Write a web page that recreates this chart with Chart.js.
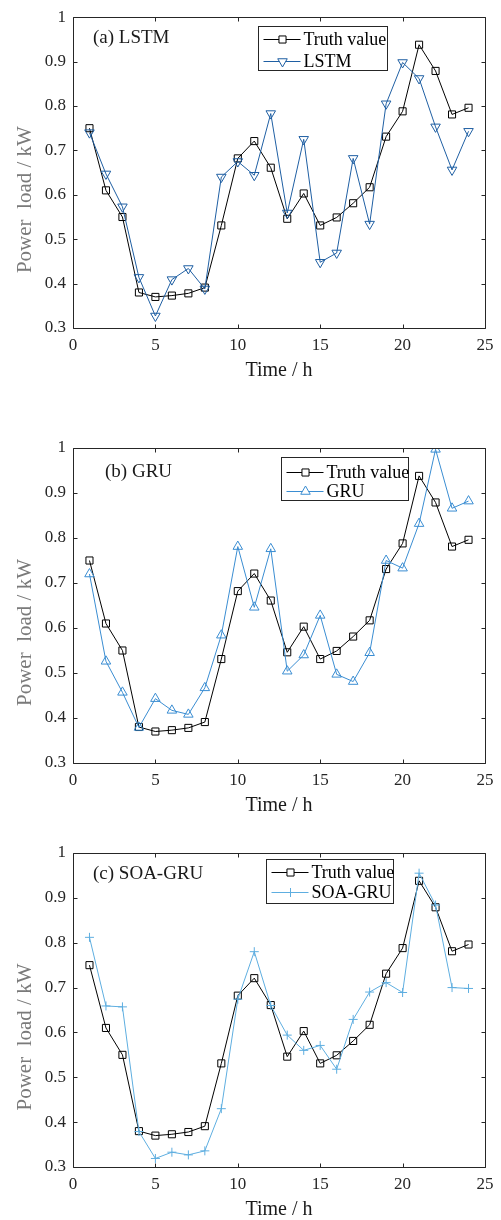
<!DOCTYPE html>
<html>
<head>
<meta charset="utf-8">
<script src="https://cdn.jsdelivr.net/npm/chart.js@4/dist/chart.umd.min.js"></script>
<style>
  html, body { margin: 0; padding: 0; background: #ffffff; }
  body { width: 501px; height: 1220px; position: relative; overflow: hidden; }
  canvas { position: absolute; left: 0; }
</style>
</head>
<body>
<canvas id="cA" width="501" height="400" style="top:0px"></canvas>
<canvas id="cB" width="501" height="420" style="top:400px"></canvas>
<canvas id="cC" width="501" height="400" style="top:820px"></canvas>
<script>
// ---------------- data ----------------
const hours = [1, 2, 3, 4, 5, 6, 7, 8, 9, 10, 11, 12, 13, 14, 15, 16, 17, 18, 19, 20, 21, 22, 23, 24];
const truthValue = [0.750, 0.610, 0.550, 0.380, 0.370, 0.373, 0.378, 0.391, 0.531, 0.682, 0.721, 0.661,
                    0.546, 0.603, 0.531, 0.549, 0.581, 0.617, 0.731, 0.788, 0.938, 0.879, 0.781, 0.796];
const lstmValue  = [0.740, 0.647, 0.573, 0.414, 0.327, 0.409, 0.434, 0.388, 0.640, 0.675, 0.644, 0.783,
                    0.559, 0.725, 0.448, 0.469, 0.682, 0.534, 0.805, 0.898, 0.862, 0.753, 0.656, 0.743];
const gruValue   = [0.720, 0.526, 0.457, 0.379, 0.443, 0.417, 0.408, 0.467, 0.584, 0.781, 0.646, 0.776,
                    0.504, 0.540, 0.628, 0.497, 0.481, 0.545, 0.750, 0.733, 0.832, 0.997, 0.866, 0.882];
const soaGruValue = [0.812, 0.659, 0.657, 0.379, 0.319, 0.333, 0.327, 0.336, 0.430, 0.674, 0.780, 0.660,
                     0.594, 0.560, 0.571, 0.518, 0.629, 0.690, 0.711, 0.689, 0.955, 0.884, 0.700, 0.698];
const xTickValues = [0, 5, 10, 15, 20, 25];
const yTickValues = [0.3, 0.4, 0.5, 0.6, 0.7, 0.8, 0.9, 1];
const panelTitles = ['(a) LSTM', '(b) GRU', '(c) SOA-GRU'];
const seriesNames = ['Truth value', 'LSTM', 'GRU', 'SOA-GRU'];
const xAxisTitle = 'Time / h';
const yAxisTitle = 'Power  load / kW';

// ---------------- layout / style ----------------
const FONT = '"Liberation Serif", "Times New Roman", serif';
const AXIS_COLOR = '#262626';

const panels = [
  { canvas: 'cA', h: 400, areaTop: 14, areaBottom: 328, title: panelTitles[0], titlePos: [20, 21],
    pred: lstmValue, predName: seriesNames[1], color: '#1f5fa3', style: 'triangle', rot: 180, radius: 5.5,
    legend: { x: 185, y: 9, w: 129, h: 44, r1: 12, r2: 34 } },
  { canvas: 'cB', h: 420, areaTop: 48, areaBottom: 363, title: panelTitles[1], titlePos: [32, 24],
    pred: gruValue, predName: seriesNames[2], color: '#3a8dd2', style: 'triangle', rot: 0, radius: 5.5,
    legend: { x: 208, y: 9, w: 127, h: 43, r1: 14, r2: 33 } },
  { canvas: 'cC', h: 400, areaTop: 33, areaBottom: 347, title: panelTitles[2], titlePos: [20, 21],
    pred: soaGruValue, predName: seriesNames[3], color: '#5eaee0', style: 'cross', rot: 0, radius: 4.5,
    legend: { x: 193, y: 6, w: 127, h: 44, r1: 12, r2: 32 } }
];

const frameTicks = {
  id: 'frameTicks',
  afterDraw(chart) {
    const ctx = chart.ctx;
    const a = chart.chartArea;
    const xs = chart.scales.x, ys = chart.scales.y;
    ctx.save();
    ctx.strokeStyle = AXIS_COLOR;
    ctx.lineWidth = 1;
    ctx.beginPath();
    const L = Math.round(a.left) + 0.5, R = Math.round(a.right) + 0.5;
    const T = Math.round(a.top) + 0.5, B = Math.round(a.bottom) + 0.5;
    ctx.rect(L, T, R - L, B - T);
    const tl = 4;
    xTickValues.forEach(v => {
      const px = Math.round(xs.getPixelForValue(v)) + 0.5;
      ctx.moveTo(px, B); ctx.lineTo(px, B - tl);
      ctx.moveTo(px, T); ctx.lineTo(px, T + tl);
    });
    yTickValues.forEach(v => {
      const py = Math.round(ys.getPixelForValue(v)) + 0.5;
      ctx.moveTo(L, py); ctx.lineTo(L + tl, py);
      ctx.moveTo(R, py); ctx.lineTo(R - tl, py);
    });
    ctx.stroke();
    ctx.restore();
  }
};

const yTitle = {
  id: 'yTitle',
  afterDraw(chart) {
    const ctx = chart.ctx;
    const a = chart.chartArea;
    ctx.save();
    ctx.translate(25, (a.top + a.bottom) / 2 + 27);
    ctx.rotate(-Math.PI / 2);
    ctx.fillStyle = '#7a7a7a';
    ctx.font = '21px ' + FONT;
    ctx.textAlign = 'center';
    ctx.textBaseline = 'middle';
    ctx.fillText(yAxisTitle, 0, 0);
    ctx.restore();
  }
};

const boxLegend = {
  id: 'boxLegend',
  afterDraw(chart, args, opts) {
    const ctx = chart.ctx;
    const a = chart.chartArea;
    const lg = opts.box;
    const bx = Math.round(a.left + lg.x) + 0.5, by = Math.round(a.top + lg.y) + 0.5;
    ctx.save();
    ctx.fillStyle = '#ffffff';
    ctx.fillRect(bx, by, lg.w, lg.h);
    ctx.strokeStyle = AXIS_COLOR;
    ctx.lineWidth = 1;
    ctx.strokeRect(bx, by, lg.w, lg.h);
    const rows = [lg.r1, lg.r2];
    chart.data.datasets.forEach((ds, i) => {
      const y = Math.round(by + rows[i]) + 0.5;
      ctx.strokeStyle = ds.borderColor;
      ctx.lineWidth = 1;
      ctx.beginPath();
      ctx.moveTo(bx + 5, y); ctx.lineTo(bx + 42, y);
      ctx.stroke();
      ctx.fillStyle = '#ffffff';
      Chart.helpers.drawPoint(ctx, {
        pointStyle: ds.pointStyle, rotation: ds.pointRotation || 0,
        radius: ds.pointRadius, borderWidth: 1
      }, bx + 24, y);
      ctx.fillStyle = '#000000';
      ctx.font = '18px ' + FONT;
      ctx.textBaseline = 'middle';
      ctx.textAlign = 'left';
      ctx.fillText(ds.label, bx + 45, y + 1);
    });
    ctx.restore();
  }
};

const panelLabel = {
  id: 'panelLabel',
  afterDraw(chart, args, opts) {
    const ctx = chart.ctx;
    const a = chart.chartArea;
    ctx.save();
    ctx.fillStyle = '#1a1a1a';
    ctx.font = '19px ' + FONT;
    ctx.textBaseline = 'middle';
    ctx.textAlign = 'left';
    ctx.fillText(opts.text, a.left + opts.pos[0], a.top + opts.pos[1]);
    ctx.restore();
  }
};

panels.forEach(p => {
  const xTitleCenterFromBottom = p.h - p.areaBottom - 43;
  new Chart(document.getElementById(p.canvas), {
    type: 'line',
    data: {
      datasets: [
        { label: seriesNames[0], data: hours.map((h, i) => ({ x: h, y: truthValue[i] })),
          borderColor: '#000000', backgroundColor: 'rgba(0,0,0,0)', borderWidth: 1,
          pointStyle: 'rect', pointRadius: 5, pointBorderWidth: 1, pointBorderColor: '#000000',
          pointBackgroundColor: 'rgba(0,0,0,0)', tension: 0, order: 2 },
        { label: p.predName, data: hours.map((h, i) => ({ x: h, y: p.pred[i] })),
          borderColor: p.color, backgroundColor: 'rgba(0,0,0,0)', borderWidth: 1,
          pointStyle: p.style, pointRotation: p.rot, pointRadius: p.radius, pointBorderWidth: 1,
          pointBorderColor: p.color, pointBackgroundColor: 'rgba(0,0,0,0)', tension: 0, order: 1 }
      ]
    },
    options: {
      responsive: false,
      animation: false,
      devicePixelRatio: 1,
      layout: { padding: { top: p.areaTop, right: 16, left: 0, bottom: 0 } },
      plugins: {
        legend: { display: false },
        tooltip: { enabled: false },
        boxLegend: { box: p.legend },
        panelLabel: { text: p.title, pos: p.titlePos }
      },
      scales: {
        x: {
          type: 'linear', min: 0, max: 25,
          afterBuildTicks: s => { s.ticks = xTickValues.map(v => ({ value: v })); },
          afterFit: s => { s.height = p.h - p.areaBottom; },
          grid: { display: false, drawTicks: false },
          border: { display: false },
          ticks: { color: AXIS_COLOR, padding: 7, font: { family: FONT, size: 17, lineHeight: 1.2 },
                   maxRotation: 0, autoSkip: false, callback: v => String(v) },
          title: { display: true, text: xAxisTitle, color: '#1a1a1a',
                   font: { family: FONT, size: 20, lineHeight: 1 },
                   padding: { top: 0, bottom: xTitleCenterFromBottom - 10 } }
        },
        y: {
          type: 'linear', min: 0.3, max: 1,
          afterBuildTicks: s => { s.ticks = yTickValues.map(v => ({ value: v })); },
          afterFit: s => { s.width = 73; },
          grid: { display: false, drawTicks: false },
          border: { display: false },
          ticks: { color: AXIS_COLOR, padding: 7, font: { family: FONT, size: 17, lineHeight: 1.2 },
                   autoSkip: false, callback: v => String(Math.round(v * 10) / 10) },
          title: { display: false }
        }
      }
    },
    plugins: [frameTicks, boxLegend, panelLabel, yTitle]
  });
});
</script>
</body>
</html>
